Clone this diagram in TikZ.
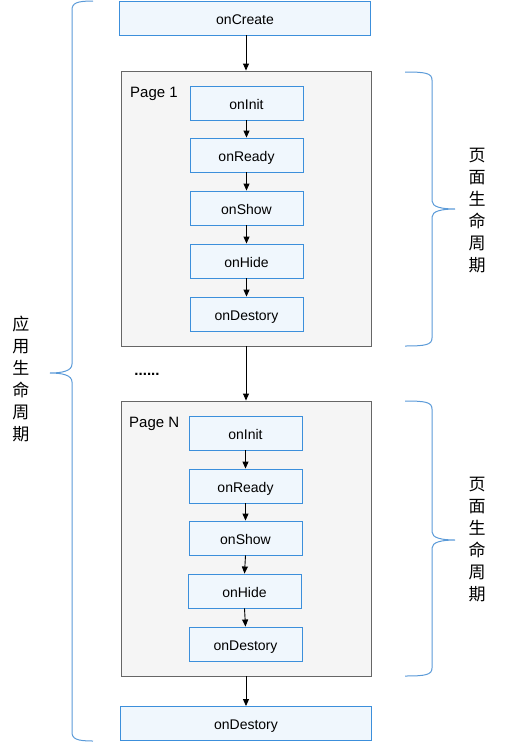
\documentclass[tikz,border=0pt]{standalone}
\usepackage{fontspec}
\setmainfont{Liberation Sans}
\newfontfamily\cjk{Noto Sans CJK SC}
\usetikzlibrary{arrows.meta}
\definecolor{boxfill}{HTML}{F0F7FD}
\definecolor{boxline}{HTML}{3C8FDB}
\definecolor{contfill}{HTML}{F5F5F5}
\definecolor{contline}{HTML}{666666}
\definecolor{bracec}{HTML}{5A9AD8}
\tikzset{
  evbox/.style={draw=boxline, fill=boxfill, line width=0.9pt, minimum width=113pt, minimum height=34pt, inner sep=0pt, text height=12.5pt, text depth=0pt, font=\fontsize{14}{16}\selectfont},
  widebox/.style={evbox, minimum width=251pt},
  cont/.style={draw=contline, fill=contfill, line width=0.9pt, minimum width=250pt, inner sep=0pt},
  arr/.style={-{Triangle[length=7pt,width=6pt]}, line width=0.9pt},
  brc/.style={draw=bracec, line width=1pt},
  vtext/.style={font=\cjk\fontsize{17}{22}\selectfont, align=center, inner sep=0pt},
  lbl/.style={font=\fontsize{15}{17}\selectfont, inner sep=0pt, anchor=west}
}
\begin{document}
\begin{tikzpicture}[x=1pt,y=-1pt]
\useasboundingbox (0,0) rectangle (512,742);
% containers
\node[cont, minimum height=275pt] (p1) at (246,208.5) {};
\node[cont, minimum height=275pt] (pn) at (246,538.5) {};
% top / bottom
\node[widebox] (create) at (245,18) {onCreate};
\node[widebox] (destroy) at (246,723.5) {onDestory};
% page 1
\node[lbl] (p1l) at (130,93.5) {Page 1};
\node[evbox] (a1) at (246.5,103) {onInit};
\node[evbox] (a2) at (246.5,155) {onReady};
\node[evbox] (a3) at (246.5,208) {onShow};
\node[evbox] (a4) at (246.5,261) {onHide};
\node[evbox] (a5) at (246.5,314) {onDestory};
% page N
\node[lbl] (pnl) at (129,423.5) {Page N};
\node[evbox] (b1) at (245.5,433) {onInit};
\node[evbox] (b2) at (245.5,486) {onReady};
\node[evbox] (b3) at (245.5,538) {onShow};
\node[evbox] (b4) at (244.5,591) {onHide};
\node[evbox] (b5) at (245.5,644) {onDestory};
% dots
\node[font=\bfseries\fontsize{15}{17}\selectfont, inner sep=0pt] (dots) at (147,374) {......};
% arrows
\draw[arr] (create.south -| p1.north) -- (p1.north);
\draw[arr] (p1.south) -- (pn.north);
\draw[arr] (pn.south) -- (destroy.north -| pn.south);
\draw[arr] (a1.south) -- (a2.north);
\draw[arr] (a2.south) -- (a3.north);
\draw[arr] (a3.south) -- (a4.north);
\draw[arr] (a4.south) -- (a5.north);
\draw[arr] (b1.south) -- (b2.north);
\draw[arr] (b2.south) -- (b3.north);
\draw[arr] (b3.south) -- (b4.north);
\draw[arr] (b4.south) -- (b5.north);
% left brace
\coordinate (lt) at (93,1);
\coordinate (ltip) at (50,373);
\coordinate (lb) at (93,741);
\draw[brc] (lt) .. controls (77,1) and (72,3) .. (72,10) -- (72,364)
  .. controls (72,371) and (62,373) .. (ltip)
  .. controls (62,373) and (72,375) .. (72,382) -- (72,732)
  .. controls (72,739) and (77,741) .. (lb);
\node[vtext] (ltext) at (21,379) {应\\用\\生\\命\\周\\期};
% right brace 1
\coordinate (r1t) at (405,72);
\coordinate (r1tip) at (455,209);
\coordinate (r1b) at (405,346);
\draw[brc] (r1t) .. controls (425,72) and (432,73) .. (432,80) -- (432,201)
  .. controls (432,207) and (442,209) .. (r1tip)
  .. controls (442,209) and (432,211) .. (432,217) -- (432,338)
  .. controls (432,345) and (425,346) .. (r1b);
\node[vtext] (r1text) at (477,211) {页\\面\\生\\命\\周\\期};
% right brace 2
\coordinate (r2t) at (405,401);
\coordinate (r2tip) at (455,540);
\coordinate (r2b) at (405,676);
\draw[brc] (r2t) .. controls (425,401) and (432,402) .. (432,409) -- (432,532)
  .. controls (432,538) and (442,540) .. (r2tip)
  .. controls (442,540) and (432,542) .. (432,548) -- (432,668)
  .. controls (432,675) and (425,676) .. (r2b);
\node[vtext] (r2text) at (477,540) {页\\面\\生\\命\\周\\期};
\end{tikzpicture}
\end{document}
